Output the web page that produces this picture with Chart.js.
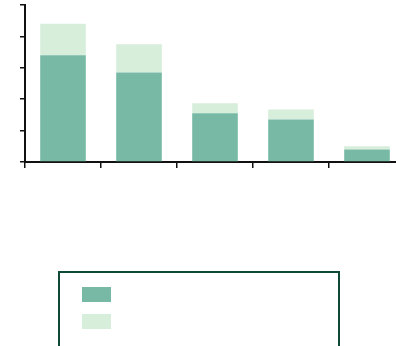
<!DOCTYPE html>
<html>
<head>
<meta charset="utf-8">
<script src="https://cdn.jsdelivr.net/npm/chart.js@4/dist/chart.umd.min.js"></script>
<style>
  body { margin: 0; background: #fff; font-family: "DejaVu Sans", sans-serif; }
  #wrap { position: relative; width: 396px; height: 346px; overflow: hidden; }
  #box { position: absolute; left: 0; top: 0; width: 410px; height: 200px; }
  #legend { position: absolute; left: 58px; top: 271px; width: 282px; height: 100px;
            border: 2px solid #0f4a36; box-sizing: border-box; padding: 14px 0 0 22px; }
  .item { display: flex; align-items: center; height: 15px; margin-bottom: 12px; }
  .swatch { width: 29px; height: 15px; }
</style>
</head>
<body>
<div id="wrap">
  <div id="box"><canvas id="myChart"></canvas></div>
  <div id="legend"></div>
</div>
<script>
// categories have no visible labels in the picture
var categories = [1, 2, 3, 4, 5];
var lowerValues = [68, 57, 31, 27, 8];
var upperValues = [20, 18, 6.5, 6.5, 2];
var seriesNames = ['', ''];
var barColors = ['#77b9a5', '#d7eedb'];
var yTicks = [0, 20, 40, 60, 80, 100];

var ctx = document.getElementById('myChart').getContext('2d');

var myChart = new Chart(ctx, {
  type: 'bar',
  data: {
    labels: categories,
    datasets: [
      { label: seriesNames[0], data: lowerValues, backgroundColor: barColors[0] },
      { label: seriesNames[1], data: upperValues, backgroundColor: barColors[1] }
    ]
  },
  options: {
    responsive: true,
    maintainAspectRatio: false,
    animation: false,
    layout: { padding: { top: 5, right: 5, left: 0, bottom: 0 } },
    datasets: { bar: { categoryPercentage: 1, barPercentage: 0.6 } },
    plugins: {
      legend: { display: false },
      tooltip: { enabled: false }
    },
    scales: {
      x: {
        stacked: true,
        ticks: { display: false },
        grid: { drawOnChartArea: false, tickLength: 6, color: '#111', lineWidth: 1.5 },
        border: { color: '#111', width: 2 },
        afterFit: function (scale) { scale.height = 38; }
      },
      y: {
        stacked: true,
        min: yTicks[0],
        max: yTicks[yTicks.length - 1],
        ticks: { display: false, stepSize: yTicks[1] - yTicks[0] },
        grid: { drawOnChartArea: false, tickLength: 5, color: '#111', lineWidth: 1.5 },
        border: { color: '#111', width: 2 },
        afterFit: function (scale) { scale.width = 25; }
      }
    }
  }
});

// legend box built from the datasets
var legend = document.getElementById('legend');
myChart.data.datasets.forEach(function (ds) {
  var item = document.createElement('div');
  item.className = 'item';
  var sw = document.createElement('div');
  sw.className = 'swatch';
  sw.style.background = ds.backgroundColor;
  var txt = document.createElement('span');
  txt.textContent = ds.label;
  item.appendChild(sw);
  item.appendChild(txt);
  legend.appendChild(item);
});
</script>
</body>
</html>
